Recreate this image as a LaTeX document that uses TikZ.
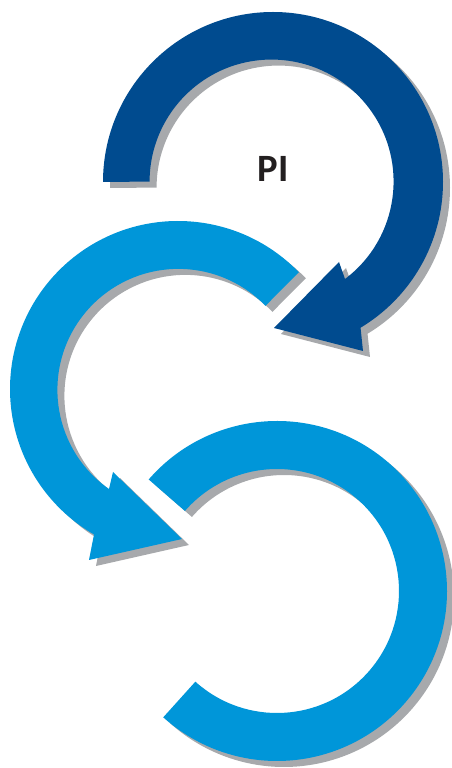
\documentclass[tikz,border=0pt]{standalone}
\usepackage{fontspec}
\setmainfont{Carlito}
\usepackage{tikz}
\usepackage{xcolor}
\definecolor{cycledark}{HTML}{004B8F}
\definecolor{cyclelight}{HTML}{0096D9}
\definecolor{cycleshade}{HTML}{A7A9AC}
\definecolor{cycletext}{HTML}{231F20}
\tikzset{
  darkarc/.style={fill=cycledark},
  lightarc/.style={fill=cyclelight},
  shade/.style={fill=cycleshade, shift={(7,-6)}},
  label/.style={font=\bfseries\fontsize{22}{24}\selectfont, text=cycletext, inner sep=0pt},
}
%% outlines of the three arcs (1 unit = 1 px of the picture)
\newcommand{\arcTop}{(103,586) arc[start angle=180, end angle=-59, radius=170]
  -- (363,417) -- (274,440) -- (339,506) -- (345,489)
  arc[start angle=-53, end angle=180, radius=122] -- cycle}
\newcommand{\arcMid}{([shift={(178,379)}]44:168) arc[start angle=44, end angle=240, radius=168]
  -- (89,208) -- (182,229) -- (113,296) -- (109,279)
  arc[start angle=235, end angle=44, radius=121] -- cycle}
\newcommand{\arcLow}{([shift={(277,177)}]139:170) arc[start angle=139, end angle=-132, radius=170]
  -- ([shift={(277,177)}]-132:122) arc[start angle=-132, end angle=139, radius=122] -- cycle}

\begin{document}
\begin{tikzpicture}[x=0.02cm, y=0.02cm]

\useasboundingbox (0,0) rectangle (452,768);

%% ====================  LOWER ARC  ====================

\fill[shade] \arcLow;
\fill[lightarc] \arcLow;

%% ====================  MIDDLE ARC  ====================

\fill[shade] \arcMid;
\fill[lightarc] \arcMid;

%% ====================  TOP ARC  ====================

\fill[shade] \arcTop;
\fill[darkarc] \arcTop;

\node[label, anchor=base] (pi) at (273,586) {PI};

\end{tikzpicture}
\end{document}
